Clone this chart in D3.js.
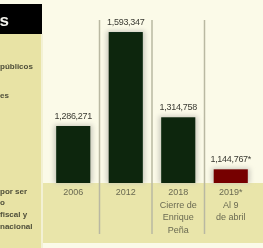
<!DOCTYPE html>
<html>
<head>
<meta charset="utf-8">
<script src="https://cdn.jsdelivr.net/npm/d3@7"></script>
<style>
  body { margin: 0; background: #fbfae8; }
  svg { display: block; }
</style>
</head>
<body>
<svg id="chart" width="263" height="248"></svg>
<script>
// data
let categories = ["2006", "2012", "2018", "2019*"];
let values = [1286271, 1593347, 1314758, 1144767];
let valueLabels = ["1,286,271", "1,593,347", "1,314,758", "1,144,767*"];
let categoryLines = [["2006"], ["2012"], ["2018", "Cierre de", "Enrique", "Peña"], ["2019*", "Al 9", "de abril"]];
let sideLines = [["públicos", 69], ["es", 98], ["por ser", 194], ["o", 205], ["fiscal y", 217], ["nacional", 229]];

let chart = d3.select("#chart");
let width = 263, height = 248;
let baseY = 183;

let defs = chart.append("defs");
defs.append("filter").attr("id", "soft")
    .append("feGaussianBlur").attr("stdDeviation", 0.45);
defs.append("filter").attr("id", "glow")
    .attr("x", "-30%").attr("y", "-30%").attr("width", "160%").attr("height", "160%")
    .append("feGaussianBlur").attr("stdDeviation", 2.5);

let g = chart.append("g").attr("filter", "url(#soft)");

// backgrounds
g.append("rect").attr("x", 0).attr("y", 0).attr("width", width).attr("height", height).attr("fill", "#fbfae8");
g.append("rect").attr("x", 43).attr("y", baseY).attr("width", width - 43).attr("height", 60).attr("fill", "#e9e5aa");
g.append("rect").attr("x", 0).attr("y", 34).attr("width", 41).attr("height", height - 34).attr("fill", "#e8e3a5");
g.append("rect").attr("x", 41).attr("y", 34).attr("width", 2).attr("height", height - 34).attr("fill", "#f3f1d4");
g.append("rect").attr("x", 0).attr("y", 4).attr("width", 42).attr("height", 30).attr("fill", "#050505");
g.append("text").attr("x", 9).attr("y", 26).attr("text-anchor", "end")
    .style("font-family", "Liberation Sans, Arial, sans-serif").style("font-size", "17px")
    .style("font-weight", "bold").style("fill", "#f4f4ee").text("Cifras");

// side panel text
g.selectAll("sidetext")
    .data(sideLines)
    .enter()
    .append("text")
    .attr("x", 0)
    .attr("y", function(d) { return d[1]; })
    .style("font-family", "Liberation Sans Narrow, Liberation Sans, sans-serif")
    .style("font-size", "8px")
    .style("font-weight", "bold")
    .style("fill", "#4e4e3a")
    .text(function(d) { return d[0]; });

// scales
let x = d3.scaleBand()
    .domain(categories)
    .range([47, 257])
    .paddingInner(0.35)
    .paddingOuter(0.175);

let y = d3.scaleLinear()
    .domain([1100000, 1600000])
    .range([baseY, 30]);

// separators between cells
let step = x.step();
g.selectAll("sep")
    .data(categories.slice(1))
    .enter()
    .append("line")
    .attr("x1", function(d) { return x(d) - (step - x.bandwidth()) / 2; })
    .attr("x2", function(d) { return x(d) - (step - x.bandwidth()) / 2; })
    .attr("y1", 20)
    .attr("y2", 234)
    .attr("stroke", "#b9b8a2")
    .attr("stroke-width", 1.5);

// soft halo behind bars
g.selectAll("halo")
    .data(values)
    .enter()
    .append("rect")
    .attr("x", function(d, i) { return x(categories[i]) - 2; })
    .attr("y", function(d) { return y(d) - 1; })
    .attr("width", x.bandwidth() + 4)
    .attr("height", function(d) { return baseY - y(d) + 1; })
    .attr("fill", "#c9c8bc")
    .attr("filter", "url(#glow)");

// bars
g.selectAll("bar")
    .data(values)
    .enter()
    .append("rect")
    .attr("x", function(d, i) { return x(categories[i]); })
    .attr("y", function(d) { return y(d); })
    .attr("width", x.bandwidth())
    .attr("height", function(d) { return baseY - y(d); })
    .attr("fill", function(d, i) { return i == 3 ? "#760606" : "#0b260c"; });

// value labels
g.selectAll("vlabel")
    .data(values)
    .enter()
    .append("text")
    .attr("x", function(d, i) { return x(categories[i]) + x.bandwidth() / 2; })
    .attr("y", function(d) { return y(d) - 7; })
    .attr("text-anchor", "middle")
    .style("font-family", "Liberation Sans Narrow, Liberation Sans, sans-serif")
    .style("font-size", "9px")
    .style("letter-spacing", "-0.3px")
    .style("fill", "#3a3a32")
    .text(function(d, i) { return valueLabels[i]; });

// category labels
categoryLines.forEach(function(lines, i) {
    g.selectAll("cat" + i)
        .data(lines)
        .enter()
        .append("text")
        .attr("x", x(categories[i]) + x.bandwidth() / 2)
        .attr("y", function(d, j) { return 195 + j * 12.5; })
        .attr("text-anchor", "middle")
        .style("font-family", "Liberation Sans Narrow, Liberation Sans, sans-serif")
        .style("font-size", "9px")
        .style("fill", "#6a6a52")
        .text(function(d) { return d; });
});
</script>
</body>
</html>
